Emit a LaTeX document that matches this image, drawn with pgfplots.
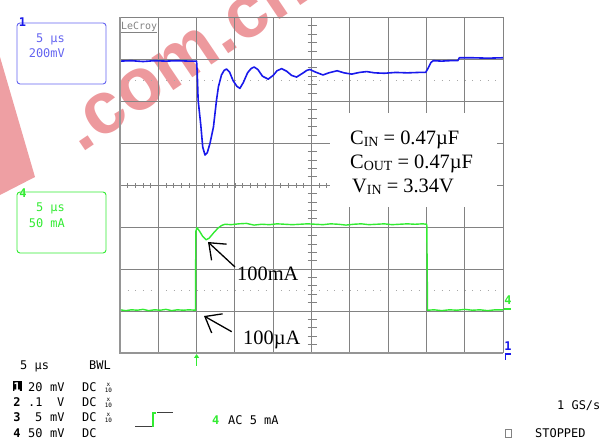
\documentclass[border=0pt]{standalone}
\usepackage{fontspec}
\setmainfont{Liberation Serif}
\newfontfamily\scopefont{DejaVu Sans Mono}
\newfontfamily\wmfont{Liberation Sans}
\usepackage{pgfplots}
\pgfplotsset{compat=1.18}
\usetikzlibrary{arrows.meta}

\definecolor{chA}{RGB}{25,25,235}
\definecolor{chD}{RGB}{50,235,50}
\definecolor{gridgray}{RGB}{130,130,130}
\definecolor{boxblue}{RGB}{100,100,240}
\definecolor{wmpink}{RGB}{234,135,140}

\newcommand{\mono}[1]{{\scopefont\fontsize{12}{12}\selectfont #1}}
\newcommand{\tinymono}[1]{{\scopefont\fontsize{6}{6}\selectfont #1}}

\begin{document}
\begin{tikzpicture}
\path[use as bounding box] (0bp,0bp) rectangle (613bp,443bp);
\clip (0bp,0bp) rectangle (613bp,443bp);

\begin{scope}[x=1bp,y=1bp]
% watermark
\fill[wmpink,opacity=0.8] (0,386) -- (35,266) -- (0,248) -- cycle;
\node[rotate=34,text=wmpink,opacity=0.85,inner sep=0,
      font=\wmfont\bfseries\fontsize{74}{74}\selectfont] at (186,384) {.com.cn};

% minor ticks on the centre lines
\foreach \i in {1,...,49}
  \draw[gridgray,line width=0.8bp] ({120+\i*7.66},255.3) -- ({120+\i*7.66},260.3);
\foreach \j in {1,...,39}
  \draw[gridgray,line width=0.8bp] (307.5,{90+\j*8.3875}) -- (316.5,{90+\j*8.3875});
% dotted reference levels
\draw[gridgray!70,line width=1bp,dash pattern=on 1bp off 6.66bp,dash phase=-7.66bp] (120,362.6) -- (503,362.6);
\draw[gridgray!70,line width=1bp,dash pattern=on 1bp off 6.66bp,dash phase=-7.66bp] (120,152.9) -- (503,152.9);
\end{scope}

\begin{axis}[
    at={(120bp,90bp)}, anchor=south west,
    width=383bp, height=335.5bp, scale only axis,
    xmin=0, xmax=10, ymin=-4, ymax=4,
    xtick={0,1,...,10}, ytick={-4,-3,...,4},
    xticklabels={}, yticklabels={},
    major tick length=0pt,
    grid=major,
    grid style={gridgray, line width=1bp},
    axis line style={gridgray, line width=1bp},
]
% channel 1 (output voltage, 200 mV/div)
\addplot[chA, line width=1.6bp, line join=round] coordinates {
  (0,2.96) (0.3,2.97) (0.6,2.95) (0.9,2.97) (1.2,2.96) (1.5,2.97) (1.8,2.96)
  (2.0,2.96) (2.02,2.6) (2.04,2.03) (2.11,1.43) (2.16,0.91) (2.22,0.72)
  (2.28,0.78) (2.35,1.0) (2.44,1.39) (2.52,2.03) (2.57,2.35) (2.65,2.63)
  (2.72,2.74) (2.78,2.77) (2.86,2.7) (2.95,2.5) (3.05,2.36) (3.13,2.31)
  (3.22,2.45) (3.33,2.68) (3.42,2.78) (3.5,2.82) (3.6,2.76) (3.72,2.6)
  (3.87,2.53) (4.0,2.62) (4.1,2.73) (4.22,2.78) (4.35,2.72) (4.48,2.62)
  (4.61,2.58) (4.75,2.66) (4.88,2.74) (4.96,2.76) (5.1,2.7) (5.3,2.63)
  (5.45,2.68) (5.67,2.73) (5.85,2.68) (6.05,2.65) (6.25,2.69) (6.44,2.71)
  (6.65,2.68) (6.9,2.67) (7.2,2.69) (7.5,2.68) (7.8,2.69) (7.98,2.69)
  (8.05,2.8) (8.12,2.93) (8.18,2.97) (8.4,2.96) (8.6,2.97) (8.82,2.97)
  (8.86,3.04) (9.2,3.04) (9.6,3.03) (10,3.04)
};
% channel 4 (load current, 50 mA/div)
\addplot[chD, line width=1.4bp, line join=round] coordinates {
  (0,-2.97) (0.15,-2.99) (0.3,-2.97) (0.45,-2.98) (0.6,-2.96) (0.75,-2.99)
  (0.9,-2.97) (1.05,-2.98) (1.2,-2.96) (1.35,-2.99) (1.5,-2.97) (1.65,-2.98)
  (1.8,-2.97) (1.97,-2.98) (1.98,-1.1) (2.01,-1.01) (2.08,-1.1) (2.16,-1.22)
  (2.25,-1.30) (2.33,-1.26) (2.44,-1.14) (2.55,-1.03) (2.65,-0.96) (2.74,-0.93)
  (2.9,-0.94) (3.1,-0.92) (3.3,-0.91) (3.5,-0.95) (3.7,-0.93) (3.9,-0.94)
  (4.1,-0.92) (4.3,-0.93) (4.5,-0.94) (4.7,-0.93) (4.9,-0.92) (5.1,-0.93)
  (5.3,-0.94) (5.5,-0.92) (5.7,-0.93) (5.9,-0.95) (6.1,-0.93) (6.3,-0.92)
  (6.5,-0.94) (6.7,-0.93) (6.9,-0.92) (7.1,-0.94) (7.3,-0.93) (7.5,-0.92)
  (7.7,-0.93) (7.9,-0.92) (8.01,-0.93) (8.03,-2.98) (8.2,-2.97) (8.4,-2.99)
  (8.6,-2.97) (8.8,-2.98) (9.0,-2.96) (9.2,-2.98) (9.4,-2.97) (9.6,-2.99)
  (9.8,-2.97) (10,-2.97)
};
\end{axis}

\begin{scope}[x=1bp,y=1bp]
% heavier left and bottom frame
\draw[gridgray!85,line width=2bp] (120,90) -- (120,425.5);
\draw[gridgray!85,line width=2bp] (119,90) -- (503,90);

% white label box
\fill[white] (330,236) rectangle (497,330);
\node[anchor=base west,inner sep=0,font=\fontsize{20.5}{20.5}\selectfont] at (350,299)
  {C\raisebox{-0.12em}{\fontsize{14}{14}\selectfont IN} = 0.47µF};
\node[anchor=base west,inner sep=0,font=\fontsize{20.5}{20.5}\selectfont] at (350,275)
  {C\raisebox{-0.12em}{\fontsize{14}{14}\selectfont OUT} = 0.47µF};
\node[anchor=base west,inner sep=0,font=\fontsize{20.5}{20.5}\selectfont] at (352,251)
  {V\raisebox{-0.12em}{\fontsize{14}{14}\selectfont IN} = 3.34V};

% arrows and current labels
\draw[black,line width=1.3bp,-{Straight Barb[length=14bp,width=22bp,line width=1.3bp]}] (235,176) -- (208,201);
\draw[black,line width=1.3bp,-{Straight Barb[length=14bp,width=22bp,line width=1.3bp]}] (231.7,111.3) -- (204,127);
\node[anchor=base west,inner sep=0,font=\fontsize{20.5}{20.5}\selectfont] at (237,163) {100mA};
\node[anchor=base west,inner sep=0,font=\fontsize{20.5}{20.5}\selectfont] at (243,99) {100µA};

% LeCroy logo
\node[anchor=base west,inner sep=0,text=gridgray,font=\scopefont\fontsize{10}{10}\selectfont] at (121,413) {LeCroy};
\draw[gridgray,line width=0.8bp] (121,411) -- (157,411);

% channel boxes
\draw[boxblue,line width=0.9bp,rounded corners=3bp] (17,359) rectangle (106,420);
\node[anchor=base east,inner sep=0,text=boxblue] at (65,400) {\mono{5 µs}};
\node[anchor=base east,inner sep=0,text=boxblue] at (65,386) {\mono{200mV}};
\node[anchor=base,inner sep=0,text=chA,font=\scopefont\bfseries\fontsize{12}{12}\selectfont] at (22.5,416) {1};
\draw[chD,line width=0.9bp,rounded corners=3bp] (17,190) rectangle (106,251);
\node[anchor=base east,inner sep=0,text=chD] at (65,232) {\mono{5 µs}};
\node[anchor=base east,inner sep=0,text=chD] at (65,216) {\mono{50 mA}};
\node[anchor=base,inner sep=0,text=chD,font=\scopefont\bfseries\fontsize{12}{12}\selectfont] at (23,246) {4};

% right-hand channel markers
\node[anchor=base,inner sep=0,text=chD,font=\scopefont\bfseries\fontsize{12}{12}\selectfont] at (508,139) {4};
\draw[chD,line width=1.2bp] (504,134) -- (511,134);
\node[anchor=base,inner sep=0,text=chA,font=\scopefont\bfseries\fontsize{12}{12}\selectfont] at (508,93) {1};
\draw[chA,line width=1.5bp] (511,89) -- (505.5,89) -- (505.5,83);

% trigger marker
\draw[chD,line width=1.5bp,-{Triangle[length=4bp,width=5bp]}] (196.6,77) -- (196.6,89);

% bottom status text
\node[anchor=base west,inner sep=0] at (20,74) {\mono{5 µs}};
\node[anchor=base west,inner sep=0] at (89,74) {\mono{BWL}};
\fill[black] (12.5,51.5) rectangle (21.5,61.5);
\node[anchor=base,inner sep=0,text=white,font=\scopefont\bfseries\fontsize{12}{12}\selectfont] at (17,52) {1};
\node[anchor=base,inner sep=0,font=\scopefont\bfseries\fontsize{12}{12}\selectfont] at (17,37) {2};
\node[anchor=base,inner sep=0,font=\scopefont\bfseries\fontsize{12}{12}\selectfont] at (17,22) {3};
\node[anchor=base,inner sep=0,font=\scopefont\bfseries\fontsize{12}{12}\selectfont] at (17,6) {4};
\node[anchor=base west,inner sep=0] at (28,52) {\mono{20}};
\node[anchor=base west,inner sep=0] at (50,52) {\mono{mV}};
\node[anchor=base west,inner sep=0] at (82,52) {\mono{DC}};
\node[anchor=base west,inner sep=0] at (28,37) {\mono{.1}};
\node[anchor=base west,inner sep=0] at (57,37) {\mono{V}};
\node[anchor=base west,inner sep=0] at (82,37) {\mono{DC}};
\node[anchor=base west,inner sep=0] at (35,22) {\mono{5}};
\node[anchor=base west,inner sep=0] at (50,22) {\mono{mV}};
\node[anchor=base west,inner sep=0] at (82,22) {\mono{DC}};
\node[anchor=base west,inner sep=0] at (28,6) {\mono{50}};
\node[anchor=base west,inner sep=0] at (50,6) {\mono{mV}};
\node[anchor=base west,inner sep=0] at (82,6) {\mono{DC}};
\foreach \yy in {52,37,22} {
  \node[anchor=base,inner sep=0] at (108.5,\yy+5) {\tinymono{x}};
  \node[anchor=base,inner sep=0] at (108.5,\yy-1) {\tinymono{10}};
}
% step symbol
\draw[black!75,line width=1bp] (135,16) -- (152,16);
\draw[chD,line width=1.3bp] (153,16) -- (153,30) -- (156,30);
\draw[black!75,line width=1bp] (157,30) -- (173,30);
\node[anchor=base west,inner sep=0,text=chD,font=\scopefont\bfseries\fontsize{12}{12}\selectfont] at (212,19) {4};
\node[anchor=base west,inner sep=0] at (228,19) {\mono{AC 5 mA}};
\node[anchor=base west,inner sep=0] at (557,34) {\mono{1 GS/s}};
\draw[gridgray,line width=0.7bp] (505,6) rectangle (511,14);
\node[anchor=base west,inner sep=0] at (535,6) {\mono{STOPPED}};
\end{scope}
\end{tikzpicture}
\end{document}
